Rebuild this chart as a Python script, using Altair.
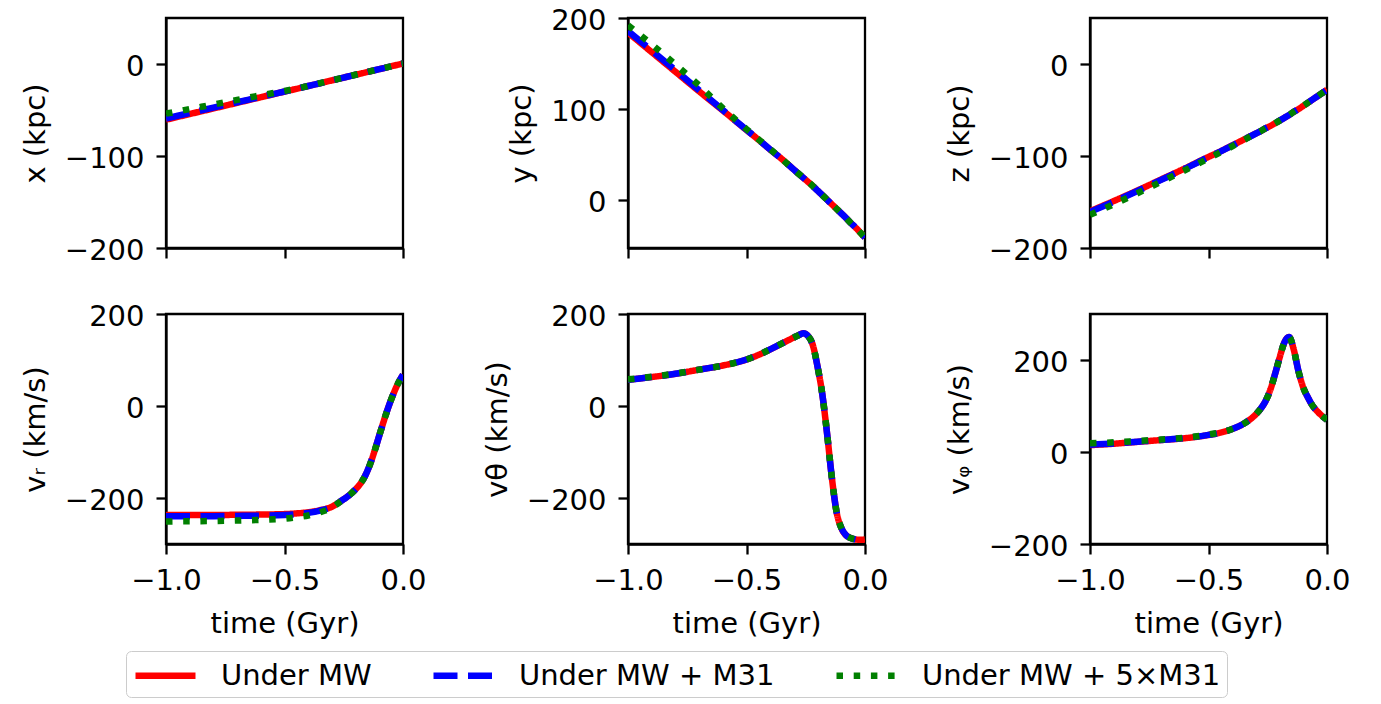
import altair as alt
import pandas as pd

TIME = [-1.0, -0.9, -0.8, -0.7, -0.6, -0.5, -0.45, -0.4, -0.35, -0.3, -0.28, -0.26,
        -0.24, -0.22, -0.2, -0.18, -0.16, -0.14, -0.12, -0.1, -0.08, -0.06, -0.04, -0.02, 0.0]

SERIES = ["Under MW", "Under MW + M31", "Under MW + 5×M31"]
COLORS = ["#ff0000", "#0000ff", "#008000"]
DASHES = [[1, 0], [24, 10.5], [6.5, 10.7]]

X_MW = [-60.5, -54.4, -48.3, -42.2, -36.1, -30.0, -27.0, -23.9, -20.9, -17.8, -16.6, -15.4,
        -14.1, -12.9, -11.7, -10.5, -9.3, -8.0, -6.8, -5.6, -4.4, -3.2, -1.9, -0.7, 0.5]
X_M31 = [-59.2, -53.3, -47.4, -41.6, -35.7, -29.9, -27.0, -23.9, -20.9, -17.8, -16.6, -15.4,
         -14.1, -12.9, -11.7, -10.5, -9.3, -8.0, -6.8, -5.6, -4.4, -3.2, -1.9, -0.7, 0.5]
X_5M31 = [-54.0, -49.0, -44.0, -39.0, -34.0, -29.3, -26.8, -23.8, -20.8, -17.8, -16.6, -15.4,
          -14.1, -12.9, -11.7, -10.5, -9.3, -8.0, -6.8, -5.6, -4.4, -3.2, -1.9, -0.7, 0.5]

Y_MW = [184, 162.5, 141, 119.5, 98.5, 77, 66.5, 55.5, 45, 33.5, 29, 24.5,
        20, 15.5, 10.5, 5.5, 0.5, -4.5, -9.5, -14.5, -19.5, -25, -30, -35.5, -41]
Y_M31 = [185.6, 164.2, 142.6, 120.8, 99, 77.2, 66.6, 55.6, 45, 33.5, 29, 24.5,
         20, 15.5, 10.5, 5.5, 0.5, -4.5, -9.5, -14.5, -19.5, -25, -30, -35.5, -41]
Y_5M31 = [192, 171, 149, 126, 101, 78, 67, 56, 45, 33.5, 29, 24.5,
          20, 15.5, 10.5, 5.5, 0.5, -4.5, -9.5, -14.5, -19.5, -25, -30, -35.5, -41]

Z_MW = [-160, -149, -137.5, -125.5, -113.5, -101, -95, -88.5, -82, -75.5, -73, -70,
        -67.5, -64.5, -61.5, -58.5, -55.5, -52, -49, -45.5, -42, -38.5, -35, -31.5, -28]
Z_M31 = [-160.8, -149.7, -138.1, -126, -113.9, -101.3, -95.2, -88.7, -82.1, -75.5, -73, -70,
         -67.5, -64.5, -61.5, -58.5, -55.5, -52, -49, -45.5, -42, -38.5, -35, -31.5, -28]
Z_5M31 = [-164, -152.5, -140.5, -128, -115.5, -102.5, -96, -89.5, -82.5, -75.5, -73, -70,
          -67.5, -64.5, -61.5, -58.5, -55.5, -52, -49, -45.5, -42, -38.5, -35, -31.5, -28]

VR_MW = [-237, -237, -237, -236.5, -236, -235, -233.5, -231, -226.5, -219, -213, -206,
         -199, -191, -181, -169, -152, -128, -98, -64, -31, 0, 27, 50, 68]
VR_M31 = [-239.8, -239.7, -239.6, -239, -238.3, -237, -235.2, -232.4, -227.4, -219.4, -213.2, -206,
          -199, -191, -181, -169, -152, -128, -98, -64, -31, 0, 27, 50, 68]
VR_5M31 = [-251, -250.5, -250, -249, -247.5, -245, -242, -238, -231, -221, -214, -206.5,
           -199, -191, -181, -169, -152, -128, -98, -64, -31, 0, 27, 50, 68]

VTH_MW = [57, 63, 70, 79, 88, 101, 111, 123, 136, 149, 154, 158,
          152, 132, 85, 25, -60, -155, -230, -265, -281, -287, -290, -291, -290]
VTH_M31 = [57, 63, 70, 79, 88, 101, 111, 123, 136, 149, 154, 158,
           152, 132, 85, 25, -60, -155, -230, -265, -281, -287, -290, -291, -290]
VTH_5M31 = [58, 63.5, 70.5, 79, 88, 101, 111, 123, 136, 149, 154, 158,
            152, 132, 85, 25, -60, -155, -230, -265, -281, -287, -290, -291, -290]

VPHI_MW = [15, 18, 22, 26, 30, 37, 42, 50, 62, 82, 94, 110,
           134, 168, 205, 238, 250, 222, 175, 140, 118, 100, 88, 78, 70]
VPHI_M31 = [16, 18.6, 22.4, 26.2, 30.2, 37.2, 42, 50, 62, 82, 94, 110,
            134, 168, 205, 238, 250, 222, 175, 140, 118, 100, 88, 78, 70]
VPHI_5M31 = [19, 21, 24, 27, 31, 38, 42.5, 50, 62, 82, 94, 110,
             134, 168, 205, 238, 250, 222, 175, 140, 118, 100, 88, 78, 70]

QUANTITIES = ["x", "y", "z", "vr", "vth", "vphi"]
VALUES = {
    "x": [X_MW, X_M31, X_5M31],
    "y": [Y_MW, Y_M31, Y_5M31],
    "z": [Z_MW, Z_M31, Z_5M31],
    "vr": [VR_MW, VR_M31, VR_5M31],
    "vth": [VTH_MW, VTH_M31, VTH_5M31],
    "vphi": [VPHI_MW, VPHI_M31, VPHI_5M31],
}
Y_TITLES = ["x (kpc)", "y (kpc)", "z (kpc)", "vᵣ (km/s)", "vθ (km/s)", "vᵩ (km/s)"]
Y_DOMAINS = [[-200, 50], [-52.5, 200], [-200, 50], [-300, 200], [-300, 200], [-200, 300]]
Y_TICKS = [[-200, -100, 0], [0, 100, 200], [-200, -100, 0],
           [-200, 0, 200], [-200, 0, 200], [-200, 0, 200]]
X_TICKS = [-1.0, -0.5, 0.0]

rows = []
for si, s in enumerate(SERIES):
    for ti, t in enumerate(TIME):
        row = {"time": t, "series": s}
        for q in QUANTITIES:
            row[q] = VALUES[q][si][ti]
        rows.append(row)
df = pd.DataFrame(rows)

FONT = "DejaVu Sans"
color_scale = alt.Scale(domain=SERIES, range=COLORS)
dash_scale = alt.Scale(domain=SERIES, range=DASHES)
legend = alt.Legend(
    title=None, orient="none", legendX=-40, legendY=633, direction="horizontal",
    columns=3, symbolType="M-1,0H3", symbolSize=900, symbolStrokeWidth=6.5,
    labelFontSize=29, labelFont=FONT, labelColor="black", labelOffset=52,
    labelLimit=500, columnPadding=48, padding=6, strokeColor="#cccccc",
    cornerRadius=5, fillColor="white",
)

W, H = 237, 230


def panel(i):
    q = QUANTITIES[i]
    bottom = i >= 3
    xaxis = alt.Axis(values=X_TICKS, format=".1f", labels=bottom, labelFlush=False,
                     title="time (Gyr)" if bottom else "")
    yaxis = alt.Axis(values=Y_TICKS[i], title=Y_TITLES[i], labelOffset=2)
    layers = []
    for s in SERIES:
        layers.append(
            alt.Chart(df)
            .transform_filter(alt.datum.series == s)
            .mark_line(strokeWidth=6.5, interpolate="monotone", clip=True)
            .encode(
                x=alt.X("time:Q", scale=alt.Scale(domain=[-1, 0], nice=False, zero=False), axis=xaxis),
                y=alt.Y(f"{q}:Q", scale=alt.Scale(domain=Y_DOMAINS[i], nice=False, zero=False), axis=yaxis),
                color=alt.Color("series:N", scale=color_scale, legend=legend),
                strokeDash=alt.StrokeDash("series:N", scale=dash_scale, legend=legend),
            )
        )
    return alt.layer(*layers).properties(width=W, height=H)


chart = (
    alt.concat(*[panel(i) for i in range(6)], columns=3,
               spacing={"row": 66, "column": 225}, bounds="flush")
    .properties(padding={"left": 12, "top": -4, "right": 5, "bottom": 0})
    .configure_view(stroke="black", strokeWidth=2.3)
    .configure_axis(
        domainColor="black", domainWidth=2.3, tickColor="black", tickWidth=2.3, tickSize=10,
        labelFontSize=29, titleFontSize=29, labelFont=FONT, titleFont=FONT,
        labelColor="black", titleColor="black", grid=False, titleFontWeight="normal",
        labelPadding=12, titlePadding=14,
    )
)

chart.save("out.html", embed_options={"renderer": "svg", "actions": False})
